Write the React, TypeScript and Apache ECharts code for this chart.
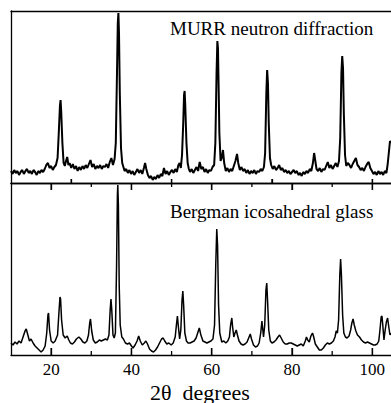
import React, { useEffect, useRef } from "react";
import * as echarts from "echarts";

// 2θ range
const X_MIN = 10;
const X_MAX = 104.65;
const Y_MAX = 172;

// Tick positions (2θ)
const topPanelTicks = [25, 50, 75, 100];
const majorTicks = [20, 40, 60, 80, 100];
const minorTicks = [30, 50, 70, 90];
const tickLabels = [20, 40, 60, 80, 100];

// MURR neutron diffraction [2θ, intensity]
const murrData: [number, number][] = [
  [10.0, 12], [10.4, 9], [10.8, 13], [11.2, 10], [11.6, 12], [12.0, 8], [12.4, 11], [12.8, 13], [13.2, 9], [13.6, 12],
  [14.0, 14], [14.4, 10], [14.8, 12], [15.2, 9], [15.6, 13], [16.0, 11], [16.4, 8], [16.8, 12], [17.2, 10], [17.6, 13],
  [18.0, 11], [18.4, 14], [18.8, 18], [19.2, 20], [19.6, 15], [20.0, 17], [20.4, 13], [20.8, 16], [21.2, 18], [21.6, 25],
  [21.9, 50], [22.2, 78], [22.35, 83], [22.5, 72], [22.8, 40], [23.1, 20], [23.4, 17], [23.7, 22], [24.0, 26], [24.3, 18],
  [24.6, 20], [25.0, 15], [25.4, 19], [25.8, 14], [26.2, 17], [26.6, 12], [27.0, 16], [27.4, 13], [27.8, 17], [28.2, 14],
  [28.6, 18], [29.0, 15], [29.4, 19], [29.8, 23], [30.2, 16], [30.6, 19], [31.0, 14], [31.4, 17], [31.8, 15], [32.2, 18],
  [32.6, 14], [33.0, 17], [33.4, 16], [33.8, 19], [34.2, 15], [34.6, 21], [35.0, 25], [35.4, 18], [35.8, 24], [36.1, 40],
  [36.4, 110], [36.6, 160], [36.75, 170], [36.9, 150], [37.1, 90], [37.4, 35], [37.7, 20], [38.0, 16], [38.3, 12], [38.7, 14],
  [39.1, 10], [39.5, 13], [39.9, 9], [40.3, 12], [40.7, 8], [41.1, 11], [41.5, 14], [41.9, 10], [42.3, 13], [42.7, 9],
  [43.1, 15], [43.4, 20], [43.7, 14], [44.1, 8], [44.5, 5], [44.9, 7], [45.3, 3], [45.7, 6], [46.1, 4], [46.5, 8],
  [46.9, 5], [47.3, 9], [47.7, 7], [48.1, 15], [48.5, 9], [48.9, 12], [49.3, 8], [49.7, 11], [50.1, 13], [50.5, 10],
  [50.9, 14], [51.3, 11], [51.7, 18], [52.0, 20], [52.3, 15], [52.6, 28], [52.9, 60], [53.1, 88], [53.25, 92], [53.4, 78],
  [53.7, 40], [54.0, 20], [54.3, 14], [54.6, 11], [55.0, 14], [55.4, 10], [55.8, 13], [56.2, 16], [56.6, 12], [57.0, 21],
  [57.4, 14], [57.8, 16], [58.2, 11], [58.6, 14], [59.0, 10], [59.4, 13], [59.8, 12], [60.2, 16], [60.6, 18], [60.9, 40],
  [61.2, 110], [61.4, 142], [61.55, 135], [61.7, 100], [61.9, 50], [62.2, 22], [62.5, 25], [62.8, 33], [63.1, 20], [63.5, 12],
  [63.9, 15], [64.3, 11], [64.7, 14], [65.1, 12], [65.5, 17], [65.9, 22], [66.3, 29], [66.6, 20], [67.0, 13], [67.4, 16],
  [67.8, 12], [68.2, 14], [68.6, 10], [69.0, 13], [69.4, 9], [69.8, 12], [70.2, 10], [70.6, 13], [71.0, 9], [71.4, 12],
  [71.8, 11], [72.2, 14], [72.6, 12], [73.0, 16], [73.3, 30], [73.6, 90], [73.8, 113], [74.0, 100], [74.2, 60], [74.5, 25],
  [74.8, 18], [75.2, 14], [75.6, 17], [76.0, 13], [76.4, 15], [76.8, 18], [77.2, 13], [77.6, 15], [78.0, 11], [78.4, 13],
  [78.8, 10], [79.2, 12], [79.6, 9], [80.0, 11], [80.4, 13], [80.8, 10], [81.2, 12], [81.6, 8], [82.0, 10], [82.4, 7],
  [82.8, 11], [83.2, 9], [83.6, 12], [84.0, 10], [84.4, 14], [84.8, 12], [85.2, 20], [85.5, 30], [85.8, 22], [86.1, 14],
  [86.5, 12], [86.9, 15], [87.3, 11], [87.7, 14], [88.1, 13], [88.5, 17], [88.9, 21], [89.3, 15], [89.7, 18], [90.1, 14],
  [90.5, 17], [90.9, 20], [91.3, 16], [91.7, 22], [92.0, 45], [92.3, 110], [92.5, 127], [92.7, 115], [92.9, 70], [93.2, 28],
  [93.5, 17], [93.9, 20], [94.3, 18], [94.7, 15], [95.1, 19], [95.5, 22], [95.9, 25], [96.3, 18], [96.7, 16], [97.1, 13],
  [97.5, 15], [97.9, 12], [98.3, 16], [98.7, 19], [99.1, 21], [99.5, 15], [99.9, 12], [100.3, 9], [100.7, 11], [101.1, 8],
  [101.5, 12], [101.9, 9], [102.3, 11], [102.7, 8], [103.1, 12], [103.5, 10], [103.8, 18], [104.1, 30], [104.4, 42], [104.65, 40],
];

// Bergman icosahedral glass [2θ, intensity]
const bergmanData: [number, number][] = [
  [10.0, 12], [10.5, 10], [11.0, 13], [11.5, 11], [12.0, 14], [12.5, 12], [13.0, 18], [13.5, 24], [13.8, 26], [14.2, 20],
  [14.6, 14], [15.0, 16], [15.5, 12], [16.0, 9], [16.5, 7], [17.0, 5], [17.5, 3], [18.0, 5], [18.5, 9], [18.9, 22],
  [19.2, 40], [19.35, 42], [19.6, 25], [20.0, 14], [20.5, 12], [21.0, 14], [21.6, 20], [21.9, 40], [22.2, 58], [22.35, 56],
  [22.6, 35], [23.0, 20], [23.5, 17], [24.0, 19], [24.4, 15], [24.8, 12], [25.3, 11], [25.8, 13], [26.3, 16], [26.9, 18],
  [27.4, 16], [27.9, 13], [28.4, 12], [28.9, 14], [29.3, 20], [29.6, 32], [29.8, 36], [30.1, 24], [30.5, 15], [31.0, 12],
  [31.5, 13], [32.0, 15], [32.5, 14], [33.0, 15], [33.5, 16], [34.0, 15], [34.4, 20], [34.7, 45], [34.9, 56], [35.1, 45],
  [35.4, 20], [35.7, 17], [36.0, 22], [36.3, 90], [36.5, 160], [36.6, 170], [36.75, 150], [36.95, 70], [37.2, 30], [37.6, 18],
  [38.0, 16], [38.5, 12], [39.0, 11], [39.5, 12], [40.0, 9], [40.4, 7], [40.9, 10], [41.4, 14], [41.8, 19], [42.2, 14],
  [42.7, 10], [43.2, 12], [43.6, 14], [44.0, 11], [44.5, 6], [45.0, 4], [45.5, 3], [46.0, 5], [46.5, 8], [47.0, 12],
  [47.5, 16], [47.9, 17], [48.3, 14], [48.8, 11], [49.3, 12], [49.9, 10], [50.4, 12], [50.9, 18], [51.2, 30], [51.45, 39],
  [51.7, 28], [52.0, 16], [52.3, 25], [52.6, 55], [52.8, 64], [53.0, 50], [53.3, 22], [53.7, 14], [54.1, 12], [54.6, 12],
  [55.1, 13], [55.6, 14], [56.1, 17], [56.5, 22], [56.9, 27], [57.3, 20], [57.8, 14], [58.3, 13], [58.8, 12], [59.3, 13],
  [59.8, 14], [60.3, 16], [60.7, 30], [61.0, 90], [61.25, 126], [61.45, 110], [61.7, 50], [62.0, 22], [62.5, 13], [63.0, 14],
  [63.5, 12], [64.0, 14], [64.4, 18], [64.7, 30], [65.0, 37], [65.2, 28], [65.5, 18], [65.8, 22], [66.1, 25], [66.4, 20],
  [66.8, 14], [67.3, 11], [67.8, 10], [68.3, 11], [68.8, 13], [69.3, 18], [69.6, 21], [69.9, 16], [70.4, 10], [70.9, 8],
  [71.4, 9], [71.8, 12], [72.2, 22], [72.5, 34], [72.7, 26], [72.9, 18], [73.2, 30], [73.5, 65], [73.7, 72], [73.9, 55],
  [74.2, 25], [74.6, 14], [75.0, 12], [75.5, 13], [76.0, 15], [76.5, 18], [76.9, 20], [77.3, 17], [77.8, 13], [78.3, 11],
  [78.8, 11], [79.3, 12], [79.8, 12], [80.3, 11], [80.8, 10], [81.3, 9], [81.8, 10], [82.3, 11], [82.8, 9], [83.3, 14],
  [83.6, 18], [83.9, 15], [84.3, 13], [84.7, 19], [85.1, 22], [85.4, 18], [85.8, 11], [86.3, 8], [86.8, 5], [87.3, 5],
  [87.8, 7], [88.3, 10], [88.8, 12], [89.3, 11], [89.8, 12], [90.3, 14], [90.7, 18], [91.0, 24], [91.3, 22], [91.6, 35],
  [91.9, 80], [92.1, 96], [92.3, 80], [92.6, 40], [92.9, 22], [93.3, 18], [93.7, 17], [94.2, 19], [94.6, 25], [94.9, 32],
  [95.2, 36], [95.5, 30], [95.9, 24], [96.3, 20], [96.8, 18], [97.3, 15], [97.8, 13], [98.3, 12], [98.8, 13], [99.3, 12],
  [99.8, 11], [100.3, 10], [100.7, 10], [101.2, 11], [101.6, 14], [101.9, 25], [102.2, 38], [102.4, 39], [102.6, 30], [102.9, 15],
  [103.2, 25], [103.5, 33], [103.8, 37], [104.1, 28], [104.4, 20], [104.65, 22],
];

const SERIF = "'Liberation Serif', 'Times New Roman', 'DejaVu Serif', serif";

// custom series drawing tick marks at axis values through the grid's scales
function tickSeries(values: number[], xAxisIndex: number, yAxisIndex: number, edge: "top" | "bottom", len: number) {
  return {
    type: "custom",
    coordinateSystem: "cartesian2d",
    xAxisIndex,
    yAxisIndex,
    silent: true,
    clip: false,
    z: 5,
    encode: { x: 0, y: 1 },
    data: values.map((v) => [v, edge === "top" ? Y_MAX : 0]),
    renderItem: (_params: any, api: any) => {
      const p = api.coord([api.value(0), api.value(1)]);
      const y = edge === "top" ? p[1] : p[1] - len;
      return {
        type: "rect",
        shape: { x: p[0] - 0.65, y, width: 1.3, height: len },
        style: { fill: "#000" },
      };
    },
  };
}

export default function App() {
  const ref = useRef<HTMLDivElement>(null);

  useEffect(() => {
    if (!ref.current) return;
    const chart = echarts.init(ref.current, undefined, { renderer: "svg" });

    const line = { show: true, lineStyle: { color: "#000", width: 1.3 } };
    const tickStyle = { color: "#000", width: 1.3 };
    const baseX = (gridIndex: number, position: string, extra: any) => ({
      type: "value",
      gridIndex,
      position,
      min: X_MIN,
      max: X_MAX,
      axisLine: line,
      axisTick: { show: false },
      axisLabel: { show: false },
      splitLine: { show: false },
      ...extra,
    });

    chart.setOption({
      animation: false,
      backgroundColor: "#fff",
      grid: [
        { left: 11, right: 0, top: 11, height: 172 },
        { left: 11, right: 0, top: 183, height: 172 },
      ],
      xAxis: [
        // 0: divider seen from the top panel
        baseX(0, "bottom", {
          axisTick: { show: true, inside: true, length: 4, customValues: topPanelTicks, lineStyle: tickStyle },
        }),
        // 1: top border
        baseX(0, "top", {}),
        // 2: bottom axis with labels
        baseX(1, "bottom", {
          axisTick: { show: true, inside: true, length: 7, customValues: majorTicks, lineStyle: tickStyle },
          axisLabel: {
            show: true,
            customValues: tickLabels,
            color: "#000",
            fontSize: 17,
            fontFamily: SERIF,
            margin: 6,
          },
        }),
        // 3: divider seen from the bottom panel
        baseX(1, "top", {
          axisTick: { show: true, inside: true, length: 7, customValues: majorTicks, lineStyle: tickStyle },
        }),
      ],
      yAxis: [0, 1].map((g) => ({
        type: "value",
        gridIndex: g,
        min: 0,
        max: Y_MAX,
        axisLine: line,
        axisTick: { show: false },
        axisLabel: { show: false },
        splitLine: { show: false },
      })),
      series: [
        {
          type: "line",
          xAxisIndex: 0,
          yAxisIndex: 0,
          data: murrData,
          showSymbol: false,
          lineStyle: { color: "#000", width: 2 },
        },
        {
          type: "line",
          xAxisIndex: 2,
          yAxisIndex: 1,
          data: bergmanData,
          showSymbol: false,
          lineStyle: { color: "#000", width: 1.5 },
        },
        tickSeries(topPanelTicks, 0, 0, "bottom", 4),
        tickSeries(majorTicks, 2, 1, "top", 7),
        tickSeries(minorTicks, 2, 1, "top", 4),
        tickSeries(majorTicks, 2, 1, "bottom", 7),
        tickSeries(minorTicks, 2, 1, "bottom", 4),
      ],
      graphic: [
        {
          type: "text",
          left: 170,
          top: 19,
          style: { text: "MURR neutron diffraction", fill: "#000", fontSize: 19, fontFamily: SERIF },
        },
        {
          type: "text",
          left: 170,
          top: 202,
          style: { text: "Bergman icosahedral glass", fill: "#000", fontSize: 19, fontFamily: SERIF },
        },
        {
          type: "text",
          left: 150,
          top: 381,
          style: { text: "2θ  degrees", fill: "#000", fontSize: 22, fontFamily: SERIF },
        },
      ],
    });

    return () => chart.dispose();
  }, []);

  return (
    <div
      ref={ref}
      style={{ position: "fixed", left: 0, top: 0, width: 391, height: 403, background: "#fff" }}
    />
  );
}
